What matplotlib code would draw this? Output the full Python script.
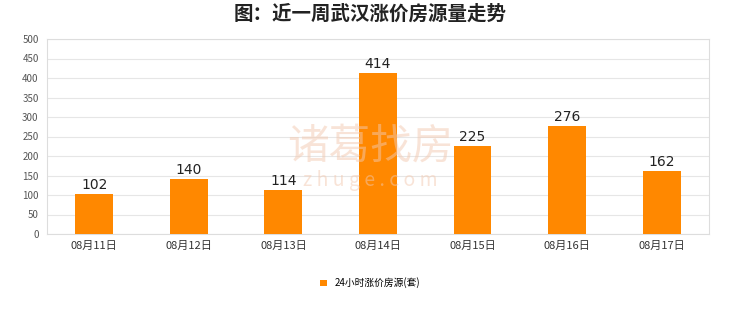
import numpy as np
import matplotlib.pyplot as plt

plt.rcParams['font.family'] = ['Noto Sans CJK SC', 'DejaVu Sans']

dates = ['08月11日', '08月12日', '08月13日', '08月14日', '08月15日', '08月16日', '08月17日']
counts = [102, 140, 114, 414, 225, 276, 162]
series_name = '24小时涨价房源(套)'

fig = plt.figure(figsize=(7.4, 3.12), dpi=100)
ax = fig.add_axes([0.0635, 0.25, 0.8945, 0.625])

x = np.arange(len(dates))
bars = ax.bar(x, counts, width=0.4, color='#FF8800', label=series_name, zorder=3)
for xi, v in zip(x, counts):
    ax.text(xi, v + 5, str(v), ha='center', va='bottom', fontsize=10, color='#222222',
            family='DejaVu Sans', zorder=4)

ax.set_xlim(-0.5, len(dates) - 0.5)
ax.set_ylim(0, 500)
ax.set_yticks(range(0, 501, 50))
ax.set_xticks(x)
ax.set_xticklabels(dates, fontsize=8, color='#333333')
ax.tick_params(axis='y', labelsize=7, colors='#555555', length=0, pad=6)
ax.tick_params(axis='x', length=0, pad=5)
ax.grid(axis='y', color='#e6e6e6', linewidth=0.8, zorder=0)
for s in ax.spines.values():
    s.set_color('#dddddd')
    s.set_linewidth(0.8)

# watermark
fig.text(0.5, 0.53, '诸葛找房', fontsize=30, color='#f3c9b0', alpha=0.5,
         ha='center', va='center', zorder=0)
fig.text(0.5, 0.42, 'z h u g e . c o m', fontsize=14, color='#f3c9b0', alpha=0.5,
         ha='center', va='center', zorder=0)

fig.suptitle('图：近一周武汉涨价房源量走势', fontsize=14, fontweight='bold', y=0.985, color='#222222')

leg = fig.legend(loc='center', bbox_to_anchor=(0.5, 0.093), frameon=False, fontsize=7,
                 handlelength=0.7, handleheight=0.7, handletextpad=0.8)

fig.savefig('out.png', dpi=100, facecolor='white')
